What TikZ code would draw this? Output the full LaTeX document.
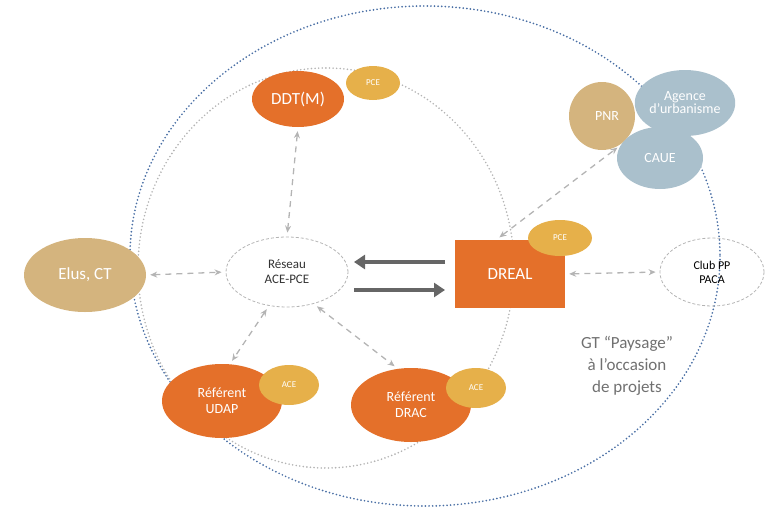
\documentclass[tikz,border=0pt]{standalone}
\usepackage{fontspec}
\setmainfont{Carlito}
\usetikzlibrary{shapes.geometric,arrows.meta}
\definecolor{orng}{HTML}{E4702A}
\definecolor{gold}{HTML}{E6B04A}
\definecolor{tan}{HTML}{D4B47E}
\definecolor{bgrey}{HTML}{AAC0CC}
\definecolor{bdot}{HTML}{4A6FA5}
\definecolor{lgrey}{HTML}{B4B4B4}
\definecolor{dgrey}{HTML}{666666}
\definecolor{tgrey}{HTML}{707070}
\tikzset{
  blob/.style={ellipse,inner sep=0pt,text=white,align=center},
  org/.style={blob,fill=orng},
  small/.style={blob,fill=gold,font=\fontsize{9}{10}\selectfont},
  dashell/.style={ellipse,draw=lgrey,dashed,dash pattern=on 3pt off 2pt,thick,align=center,inner sep=0pt},
  link/.style={draw=lgrey,line width=1.3pt,dash pattern=on 6pt off 5pt,shorten <=4pt,shorten >=4pt,{Stealth[length=7pt,width=6pt]}-{Stealth[length=7pt,width=6pt]}},
  bigarr/.style={draw=dgrey,line width=4.5pt,-{Triangle[length=11pt,width=14pt]}}
}
\begin{document}
\begin{tikzpicture}[x=1pt,y=-1pt]
\useasboundingbox (0,0) rectangle (766,509);
% big blue dotted circle
\draw[bdot,line width=1.9pt,dash pattern=on 0pt off 3.6pt,line cap=round] (425,256) ellipse [x radius=295,y radius=250];
% inner grey dotted ellipse
\draw[lgrey,line width=1.8pt,dash pattern=on 0pt off 3.6pt,line cap=round] (326,268) ellipse [x radius=188,y radius=200];

% nodes
\node[org,minimum width=92pt,minimum height=56pt,font=\fontsize{17}{18}\selectfont] (ddt) at (298,99) {DDT(M)};
\node[small,minimum width=54pt,minimum height=34pt] (ddtp) at (373,83) {PCE};

\node[blob,fill=tan,minimum width=66pt,minimum height=68pt,font=\fontsize{14}{15}\selectfont] (pnr) at (602,116) {\hspace*{10pt}PNR};
\node[blob,fill=bgrey,minimum width=86pt,minimum height=66pt,font=\fontsize{14}{15}\selectfont] (agence) at (685,103) {Agence\\[-2pt]d’urbanisme};
\node[blob,fill=bgrey,minimum width=86pt,minimum height=62pt,font=\fontsize{14}{15}\selectfont] (caue) at (660,158) {CAUE};

\node[blob,fill=tan,minimum width=122pt,minimum height=74pt,font=\fontsize{17}{18}\selectfont] (elus) at (85,275) {Elus, CT};

\node[dashell,minimum width=122pt,minimum height=70pt,text=black!80,font=\fontsize{13}{15}\selectfont] (res) at (287,272) {Réseau\\ACE-PCE};

\node[rectangle,fill=orng,text=white,minimum width=110pt,minimum height=68pt,inner sep=0pt,font=\fontsize{17}{18}\selectfont] (dreal) at (510,274) {DREAL};
\node[small,minimum width=64pt,minimum height=36pt] (drealp) at (560,238) {PCE};

\node[dashell,minimum width=104pt,minimum height=68pt,text=black,font=\fontsize{12}{14}\selectfont] (club) at (712,272) {Club PP\\PACA};

\node[org,minimum width=120pt,minimum height=74pt,font=\fontsize{14}{16}\selectfont] (udap) at (222,401) {Référent\\UDAP};
\node[small,minimum width=60pt,minimum height=40pt] (udapa) at (289,385) {ACE};

\node[org,minimum width=120pt,minimum height=74pt,font=\fontsize{14}{16}\selectfont] (drac) at (411,405) {Référent\\DRAC};
\node[small,minimum width=60pt,minimum height=40pt] (draca) at (476,388) {ACE};

\node[text=tgrey,align=center,font=\fontsize{17}{22}\selectfont] (gt) at (627,366) {GT “Paysage”\\à l’occasion\\de projets};

% thick arrows
\coordinate (a1s) at (445,262); \coordinate (a1e) at (354,262);
\coordinate (a2s) at (354,290); \coordinate (a2e) at (445,290);
\draw[bigarr] (a1s) -- (a1e);
\draw[bigarr] (a2s) -- (a2e);

% dashed links
\draw[link] (ddt.south) -- (res.north);
\draw[link] (elus.east) -- (res.west);
\draw[link] (res.-118) -- (udap.78);
\draw[link] (res.-50) -- (drac.110);
\draw[link] (dreal.112) -- (caue.162);
\draw[link] (dreal.east) -- (club.west);
\end{tikzpicture}
\end{document}
